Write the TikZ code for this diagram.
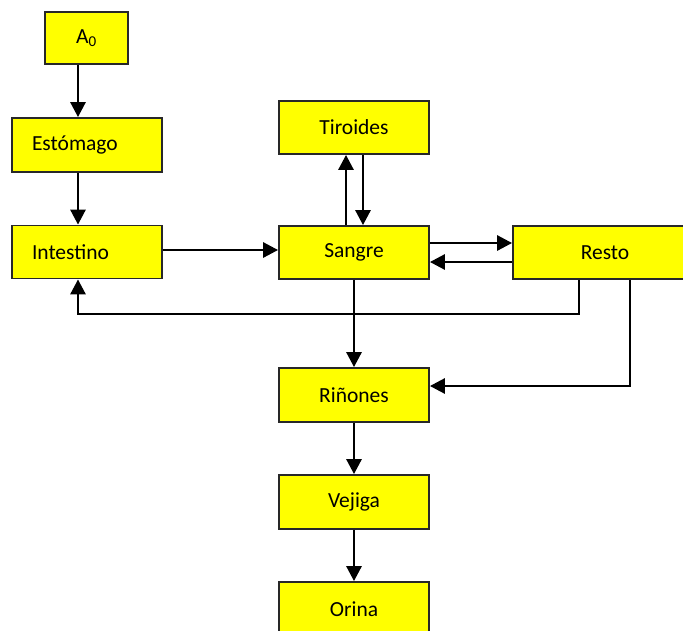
\documentclass[tikz,border=0pt]{standalone}
\usepackage{fontspec}
\setmainfont{Carlito}
\usetikzlibrary{arrows.meta}
\definecolor{boxyellow}{RGB}{255,255,0}
\definecolor{boxedge}{RGB}{40,40,40}
\begin{document}
\begin{tikzpicture}[x=1pt,y=-1pt,
  box/.style={draw=boxedge,line width=1.8pt,fill=boxyellow,minimum height=53pt,inner sep=0pt,font=\fontsize{21.5}{25}\selectfont},
  lbox/.style={box,align=left,text width=110pt},
  arr/.style={line width=2.8pt,-{Triangle[length=15pt,width=15pt]}},
  ln/.style={line width=2.8pt}]
\useasboundingbox (0,0) rectangle (683,630);
\clip (0,0) rectangle (683,630);
\node[box,minimum width=83pt,minimum height=52pt] (A0) at (86.5,38) {A\textsubscript{0}};
\node[lbox,minimum width=150pt,minimum height=54pt] (Est) at (87,145) {Estómago};
\node[lbox,minimum width=150pt] (Int) at (87,252) {Intestino};
\node[box,minimum width=150pt] (Tir) at (354,127.5) {Tiroides};
\node[box,minimum width=150pt] (San) at (354,252.5) {Sangre};
\node[box,minimum width=184pt] (Res) at (605,252.5) {Resto};
\node[box,minimum width=150pt,minimum height=54pt] (Rin) at (354,395) {Riñones};
\node[box,minimum width=150pt,minimum height=54pt] (Vej) at (354,502) {Vejiga};
\node[box,minimum width=150pt,minimum height=54pt] (Ori) at (354,609) {Orina};
\coordinate (xa) at (78,0);
\coordinate (xu) at (346,0);
\coordinate (xd) at (363,0);
\coordinate (xr1) at (579,0);
\coordinate (xr2) at (630,0);
\coordinate (ya) at (0,250);
\coordinate (yb) at (0,243);
\coordinate (yc) at (0,262);
\coordinate (y1) at (0,314);
\coordinate (y2) at (0,386);
\draw[arr] (A0.south -| xa) -- (Est.north -| xa);
\draw[arr] (Est.south -| xa) -- (Int.north -| xa);
\draw[arr] (Int.east |- ya) -- (San.west |- ya);
\draw[arr] (San.north -| xu) -- (Tir.south -| xu);
\draw[arr] (Tir.south -| xd) -- (San.north -| xd);
\draw[arr] (San.east |- yb) -- (Res.west |- yb);
\draw[arr] (Res.west |- yc) -- (San.east |- yc);
\draw[arr] (Res.south -| xr1) -- (xr1 |- y1) -- (xa |- y1) -- (Int.south -| xa);
\draw[arr] (Res.south -| xr2) -- (xr2 |- y2) -- (Rin.east |- y2);
\draw[arr] (San.south) -- (Rin.north);
\draw[arr] (Rin.south) -- (Vej.north);
\draw[arr] (Vej.south) -- (Ori.north);
\end{tikzpicture}
\end{document}
